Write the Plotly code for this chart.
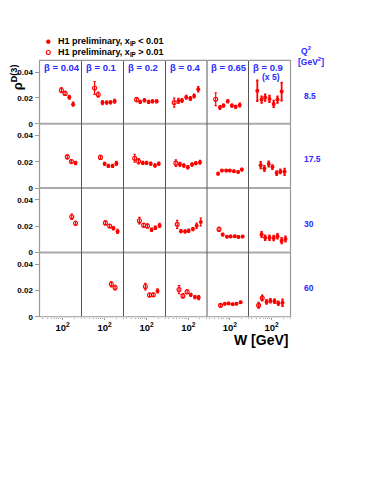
import plotly.graph_objects as go

# ---------------- data ----------------
BETA_LABELS = ["β = 0.04", "β = 0.1", "β = 0.2", "β = 0.4", "β = 0.65", "β = 0.9"]
Q2_LABELS = ["8.5", "17.5", "30", "60"]
Y_TICKS = [0, 0.02, 0.04]
Y_TICK_TEXT = ["0", "0.02", "0.04"]
X_TICKS = [100]
X_TICK_TEXT = ["10<sup>2</sup>"]
X_MINOR = [30, 40, 50, 60, 70, 80, 90, 200, 300]

# Q2 = 8.5 GeV^2 (one list per beta column)
W_Q2_8p5 = [[93, 116, 149, 187],
            [55, 68, 88, 113, 142, 182],
            [55, 68, 88, 113, 142, 182],
            [42.5, 55, 68, 88, 113, 142, 182],
            [42.5, 55, 68, 88, 113, 142, 182],
            [42.5, 55, 68, 88, 113, 142, 182]]
RHO_Q2_8p5 = [[0.026, 0.0235, 0.0205, 0.0152],
              [0.0277, 0.0226, 0.0164, 0.0164, 0.0166, 0.0174],
              [0.0187, 0.0169, 0.0182, 0.0169, 0.0174, 0.0174],
              [0.0164, 0.0177, 0.018, 0.0205, 0.0195, 0.0215, 0.0267],
              [0.019, 0.0126, 0.0141, 0.0174, 0.0141, 0.0131, 0.0146],
              [0.0256, 0.0187, 0.0203, 0.0192, 0.0154, 0.0187, 0.0249]]
ERR_Q2_8p5 = [[0.002, 0.0015, 0.0015, 0.0015],
              [0.005, 0.002, 0.0015, 0.0012, 0.0012, 0.0015],
              [0.0015, 0.0012, 0.0012, 0.0012, 0.0012, 0.0012],
              [0.0035, 0.002, 0.0015, 0.0015, 0.0015, 0.0015, 0.002],
              [0.005, 0.0015, 0.0012, 0.0012, 0.0012, 0.0012, 0.0015],
              [0.008, 0.0025, 0.0025, 0.0025, 0.0025, 0.0025, 0.007]]
OPEN_Q2_8p5 = [[1, 1, 0, 0],
               [1, 1, 0, 0, 0, 0],
               [1, 0, 0, 0, 0, 0],
               [1, 0, 0, 0, 0, 0, 0],
               [1, 0, 0, 0, 0, 0, 0],
               [0, 0, 0, 0, 0, 0, 0]]

# Q2 = 17.5 GeV^2
W_Q2_17p5 = [[132, 169, 217],
             [78, 100, 125, 161, 202],
             [49, 62, 80, 100, 128, 165, 207],
             [47, 60, 76, 97, 125, 157, 202],
             [49, 62, 80, 100, 128, 165, 207],
             [52, 65, 84, 105, 135, 169, 217]]
RHO_Q2_17p5 = [[0.0238, 0.0202, 0.0191],
               [0.0234, 0.0185, 0.0169, 0.0169, 0.0188],
               [0.0228, 0.0204, 0.0192, 0.0192, 0.0186, 0.0172, 0.0186],
               [0.019, 0.0181, 0.0172, 0.0159, 0.018, 0.019, 0.0197],
               [0.011, 0.0134, 0.0134, 0.0134, 0.0128, 0.0123, 0.0141],
               [0.0175, 0.0149, 0.0183, 0.016, 0.0115, 0.0127, 0.0124]]
ERR_Q2_17p5 = [[0.0015, 0.0012, 0.0012],
               [0.0015, 0.0012, 0.0012, 0.0012, 0.0015],
               [0.003, 0.002, 0.0012, 0.0012, 0.0012, 0.0012, 0.0012],
               [0.0025, 0.0015, 0.0012, 0.0012, 0.0012, 0.0012, 0.0015],
               [0.001, 0.0008, 0.0008, 0.0008, 0.0008, 0.0008, 0.001],
               [0.0025, 0.002, 0.002, 0.0015, 0.0015, 0.0015, 0.0025]]
OPEN_Q2_17p5 = [[1, 1, 0],
                [1, 0, 0, 0, 0],
                [1, 1, 0, 0, 0, 0, 0],
                [1, 0, 0, 0, 0, 0, 0],
                [0, 0, 0, 0, 0, 0, 0],
                [0, 0, 0, 0, 0, 0, 0]]

# Q2 = 30 GeV^2
W_Q2_30 = [[173, 217],
           [105, 135, 169, 217],
           [65, 84, 105, 135, 169, 217],
           [51, 64, 82, 102, 132, 165, 212],
           [52, 65, 84, 105, 135, 169, 217],
           [55, 68, 88, 113, 142, 182, 229]]
RHO_Q2_30 = [[0.0272, 0.0222],
             [0.0225, 0.0201, 0.0184, 0.016],
             [0.0242, 0.0207, 0.0202, 0.0173, 0.0188, 0.0206],
             [0.0214, 0.0162, 0.016, 0.0165, 0.0178, 0.0203, 0.0232],
             [0.0176, 0.0136, 0.012, 0.0122, 0.0123, 0.0118, 0.0121],
             [0.0136, 0.0112, 0.0112, 0.011, 0.0123, 0.009, 0.0102]]
ERR_Q2_30 = [[0.002, 0.0015],
             [0.0015, 0.0012, 0.0012, 0.0015],
             [0.0025, 0.0015, 0.0015, 0.0012, 0.0012, 0.0015],
             [0.003, 0.0012, 0.0012, 0.0012, 0.0012, 0.002, 0.003],
             [0.0015, 0.001, 0.0008, 0.0008, 0.0008, 0.0008, 0.0008],
             [0.002, 0.0018, 0.0018, 0.0018, 0.0018, 0.002, 0.002]]
OPEN_Q2_30 = [[1, 1],
              [1, 1, 0, 0],
              [1, 1, 1, 0, 0, 0],
              [1, 0, 0, 0, 0, 0, 0],
              [1, 0, 0, 0, 0, 0, 0],
              [0, 0, 0, 0, 0, 0, 0]]

# Q2 = 60 GeV^2
W_Q2_60 = [[],
           [149, 187],
           [93, 119, 149, 192],
           [57, 72, 93, 116, 149, 187],
           [57, 74, 93, 119, 149, 192],
           [46, 57, 74, 93, 119, 149, 192]]
RHO_Q2_60 = [[],
             [0.0248, 0.0222],
             [0.023, 0.0166, 0.0168, 0.0197],
             [0.0207, 0.0159, 0.0191, 0.0167, 0.015, 0.0146],
             [0.0087, 0.0099, 0.0102, 0.0095, 0.01, 0.011],
             [0.0087, 0.0143, 0.0113, 0.0122, 0.0119, 0.0103, 0.0107]]
ERR_Q2_60 = [[],
             [0.002, 0.0018],
             [0.0025, 0.0015, 0.0012, 0.0015],
             [0.003, 0.0015, 0.0015, 0.0012, 0.0012, 0.0015],
             [0.0008, 0.0008, 0.0008, 0.0008, 0.0008, 0.0008],
             [0.002, 0.002, 0.0015, 0.0015, 0.0015, 0.0015, 0.0025]]
OPEN_Q2_60 = [[],
              [1, 1],
              [1, 1, 1, 0],
              [1, 1, 1, 0, 0, 0],
              [1, 0, 0, 0, 0, 0],
              [1, 1, 0, 0, 0, 0, 0]]

ROWS = [
    (W_Q2_8p5, RHO_Q2_8p5, ERR_Q2_8p5, OPEN_Q2_8p5),
    (W_Q2_17p5, RHO_Q2_17p5, ERR_Q2_17p5, OPEN_Q2_17p5),
    (W_Q2_30, RHO_Q2_30, ERR_Q2_30, OPEN_Q2_30),
    (W_Q2_60, RHO_Q2_60, ERR_Q2_60, OPEN_Q2_60),
]

# ---------------- layout geometry (window pixels) ----------------
PAGE_MARGIN = 8          # default body margin of the html page
FW, FH = 379 - PAGE_MARGIN, 491 - PAGE_MARGIN
COL_X = [39.5, 81.5, 123.5, 165.5, 207.0, 248.5, 290.5]
ROW_Y = [61, 125, 190, 255, 320]
X_RANGE = [1.40, 2.49]
Y_RANGE = [0, 0.049]
RED = "#ff0000"
BLUE = "#2a2aff"
FONT = "Liberation Sans"


def px(x):
    return (x - PAGE_MARGIN) / FW


def py(y):
    return 1 - (y - PAGE_MARGIN) / FH


fig = go.Figure()
layout = {}

for r, (Ws, Rs, Es, Os) in enumerate(ROWS):
    for c in range(6):
        k = r * 6 + c + 1
        xa = "xaxis" if k == 1 else f"xaxis{k}"
        ya = "yaxis" if k == 1 else f"yaxis{k}"
        xref = "x" if k == 1 else f"x{k}"
        yref = "y" if k == 1 else f"y{k}"
        xdict = dict(
            domain=[px(COL_X[c]), px(COL_X[c + 1])],
            type="log", range=X_RANGE, anchor=yref,
            showgrid=False, zeroline=False, showline=False,
            fixedrange=True,
        )
        if r == 3:
            xdict.update(
                tickmode="array", tickvals=X_TICKS, ticktext=X_TICK_TEXT,
                ticks="outside", ticklen=2, tickcolor="#999", tickwidth=1,
                tickfont=dict(family=FONT, size=9.5, color="black", weight="bold"),
                minor=dict(tickmode="array", tickvals=X_MINOR, ticks="outside",
                           ticklen=1.5, tickcolor="#aaa", tickwidth=1),
            )
        else:
            xdict.update(showticklabels=False, ticks="")
        ydict = dict(
            domain=[py(ROW_Y[r + 1]), py(ROW_Y[r])],
            range=Y_RANGE, anchor=xref,
            showgrid=False, zeroline=False, showline=False,
            fixedrange=True,
        )
        if c == 0:
            ydict.update(
                tickmode="array", tickvals=Y_TICKS, ticktext=Y_TICK_TEXT,
                ticks="outside", ticklen=4, tickcolor="#999", tickwidth=1,
                tickfont=dict(family=FONT, size=8, color="black", weight="bold"),
            )
        else:
            ydict.update(showticklabels=False, ticks="")
        layout[xa] = xdict
        layout[ya] = ydict

        opens = Os[c]
        symbols = ["circle-open" if o else "circle" for o in opens]
        lwidths = [1.1 if o else 0 for o in opens]
        fig.add_trace(go.Scatter(
            x=Ws[c], y=Rs[c], xaxis=xref, yaxis=yref, mode="markers",
            marker=dict(symbol=symbols, size=4, color=RED,
                        line=dict(color=RED, width=lwidths)),
            error_y=dict(type="data", array=Es[c], visible=True, color=RED,
                         thickness=1.8 if c == 5 else 1.2, width=1.2),
            showlegend=False,
        ))

shapes = []
# row separators
for y in ROW_Y[1:-1]:
    shapes.append(dict(type="line", xref="paper", yref="paper",
                       x0=px(COL_X[0]), x1=px(COL_X[-1]), y0=py(y), y1=py(y),
                       line=dict(color="#aaaaaa", width=2)))
# column separators
for x in COL_X[1:-1]:
    shapes.append(dict(type="line", xref="paper", yref="paper",
                       x0=px(x), x1=px(x), y0=py(ROW_Y[0]), y1=py(ROW_Y[-1]),
                       line=dict(color="#555555", width=1)))
# outer frame
shapes.append(dict(type="rect", xref="paper", yref="paper",
                   x0=px(COL_X[0]), x1=px(COL_X[-1]), y0=py(ROW_Y[-1]), y1=py(ROW_Y[0]),
                   line=dict(color="#999999", width=1.2)))
# legend markers
shapes.append(dict(type="circle", xref="paper", yref="paper",
                   x0=px(46.3), x1=px(50.3), y0=py(44), y1=py(40),
                   fillcolor=RED, line=dict(color=RED, width=0.5)))
shapes.append(dict(type="circle", xref="paper", yref="paper",
                   x0=px(46.3), x1=px(50.3), y0=py(55), y1=py(51),
                   fillcolor="white", line=dict(color=RED, width=1.1)))

ann = []
bold_black = dict(family=FONT, size=9, color="black", weight="bold")
ann.append(dict(x=px(56), y=py(42), xref="paper", yref="paper", xanchor="left",
                yanchor="middle", showarrow=False,
                text="H1 preliminary, x<sub>IP</sub> &lt; 0.01", font=bold_black))
ann.append(dict(x=px(56), y=py(53), xref="paper", yref="paper", xanchor="left",
                yanchor="middle", showarrow=False,
                text="H1 preliminary, x<sub>IP</sub> &gt; 0.01", font=bold_black))
for c, lab in enumerate(BETA_LABELS):
    ann.append(dict(x=px(COL_X[c] + 2), y=py(68.5), xref="paper", yref="paper",
                    xanchor="left", yanchor="middle", showarrow=False, text=lab,
                    font=dict(family=FONT, size=9.5, color=BLUE, weight="bold")))
ann.append(dict(x=px(270.5), y=py(77.5), xref="paper", yref="paper",
                xanchor="center", yanchor="middle", showarrow=False, text="(x 5)",
                font=dict(family=FONT, size=8.5, color=BLUE, weight="bold")))
for r, lab in enumerate(Q2_LABELS):
    ann.append(dict(x=px(301.5), y=py(ROW_Y[r] + 36), xref="paper", yref="paper",
                    xanchor="left", yanchor="middle", showarrow=False, text=lab,
                    font=dict(family=FONT, size=8.5, color=BLUE, weight="bold")))
ann.append(dict(x=px(306), y=py(51), xref="paper", yref="paper", xanchor="center",
                yanchor="middle", showarrow=False, text="Q<sup>2</sup>",
                font=dict(family=FONT, size=8.5, color=BLUE, weight="bold")))
ann.append(dict(x=px(310.5), y=py(62), xref="paper", yref="paper", xanchor="center",
                yanchor="middle", showarrow=False, text="[GeV<sup>2</sup>]",
                font=dict(family=FONT, size=8.5, color=BLUE, weight="bold")))
ann.append(dict(x=px(290), y=py(343), xref="paper", yref="paper", xanchor="right",
                yanchor="middle", showarrow=False, text="W [GeV]",
                font=dict(family=FONT, size=14, color="black", weight="bold")))
ann.append(dict(x=px(17), y=py(78), xref="paper", yref="paper", xanchor="center",
                yanchor="middle", showarrow=False, textangle=-90,
                text="ρ<sup>D(3)</sup>",
                font=dict(family=FONT, size=13, color="black", weight="bold")))

fig.update_layout(
    width=FW, height=FH, autosize=False,
    margin=dict(l=0, r=0, t=0, b=0),
    paper_bgcolor="white", plot_bgcolor="white",
    font=dict(family=FONT, size=9, color="black"),
    showlegend=False,
    shapes=shapes, annotations=ann,
    **layout,
)

fig.write_html("out.html")
